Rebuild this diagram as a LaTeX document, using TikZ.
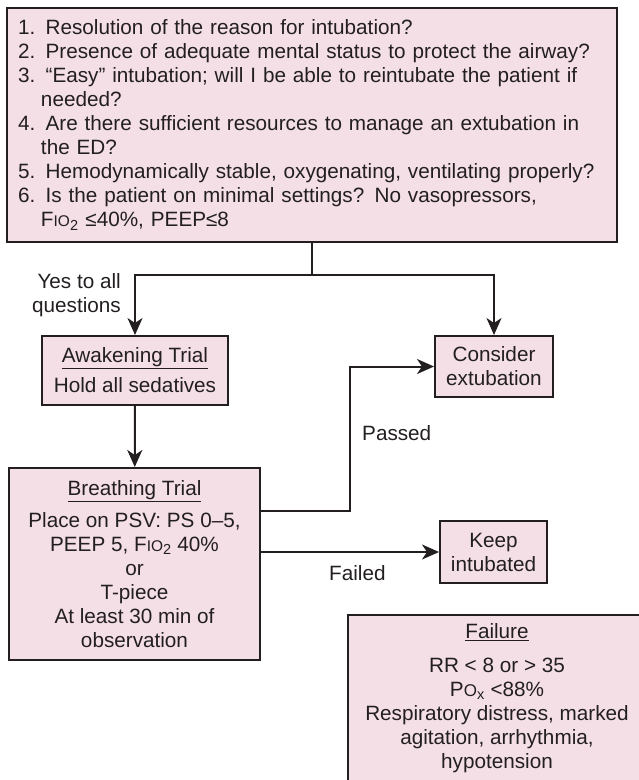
\documentclass[tikz,border=0pt]{standalone}
\usepackage{fontspec}
\setmainfont{Liberation Sans}
\usepackage{tikz}
\usetikzlibrary{arrows.meta}
\usepackage{xcolor}
\definecolor{boxfill}{HTML}{F3DFE5}
\definecolor{ink}{HTML}{231F20}
\newcommand{\flowfont}{\fontsize{20.7}{24}\selectfont}
\newcommand{\fio}{F{\fontsize{15.5}{24}\selectfont IO}\textsubscript{2}}
\newcommand{\pox}{P{\fontsize{17}{24}\selectfont O}\textsubscript{x}}
\newcommand{\hang}{\hspace*{23pt}}
\tikzset{
  box/.style={draw=ink, fill=boxfill, line width=2pt, align=center,
              inner sep=0pt, font=\flowfont, text=ink},
  qbox/.style={box, align=left, inner xsep=11pt},
  lbl/.style={font=\flowfont, text=ink, inner sep=0pt},
  link/.style={draw=ink, line width=2pt},
  flow/.style={link, -{Stealth[length=17pt,width=15pt,inset=5pt]}},
}

\begin{document}
\begin{tikzpicture}[x=1pt, y=-1pt]
\clip (0,0) rectangle (639,780);
% questions before extubation
\node[qbox, text width=588pt, minimum height=234pt] (quest) at (312,125)
  {1. Resolution of the reason for intubation?\\
   2. Presence of adequate mental status to protect the airway?\\
   3. “Easy” intubation; will I be able to reintubate the patient if\\
   \hang needed?\\
   4. Are there sufficient resources to manage an extubation in\\
   \hang the ED?\\
   5. Hemodynamically stable, oxygenating, ventilating properly?\\
   6. Is the patient on minimal settings? No vasopressors,\\
   \hang\fio{} ≤40\%, PEEP≤8};
% trials and outcomes
\node[box, minimum width=186pt, minimum height=69pt] (awake) at (135,370.5)
  {\underline{Awakening Trial}\\[6pt]Hold all sedatives};
\node[box, minimum width=118pt, minimum height=61pt] (consider) at (494,366.5)
  {Consider\\extubation};
\node[box, minimum width=251pt, minimum height=192pt] (breath) at (134.5,564)
  {\underline{Breathing Trial}\\[8pt]Place on PSV: PS 0–5,\\PEEP 5, \fio{} 40\%\\or\\T-piece\\At least 30 min of\\observation};
\node[box, minimum width=107pt, minimum height=62pt] (keep) at (493.5,552)
  {Keep\\intubated};
\node[box, minimum width=298pt, minimum height=166pt] (failure) at (497,698)
  {\underline{Failure}\\[10pt]RR < 8 or > 35\\\pox{} <88\%\\Respiratory distress, marked\\agitation, arrhythmia,\\hypotension};
% labels
\node[lbl, anchor=east, align=right] (yes) at (121,295) {Yes to all\\questions};
\node[lbl, anchor=west] (passed) at (362,433) {Passed};
\node[lbl, anchor=west] (failed) at (329,573) {Failed};
% connectors
\draw[link] (quest.south) -- ++(0,32) coordinate (fork);
\draw[flow] (fork) -| (awake.north);
\draw[flow] (fork) -| (consider.north);
\draw[flow] (awake) -- (breath);
\coordinate (passx) at (350,511);
\draw[flow] (breath.east |- passx) -- (passx) |- (consider.west);
\draw[flow] (breath.east |- keep.west) -- (keep.west);
\end{tikzpicture}
\end{document}
